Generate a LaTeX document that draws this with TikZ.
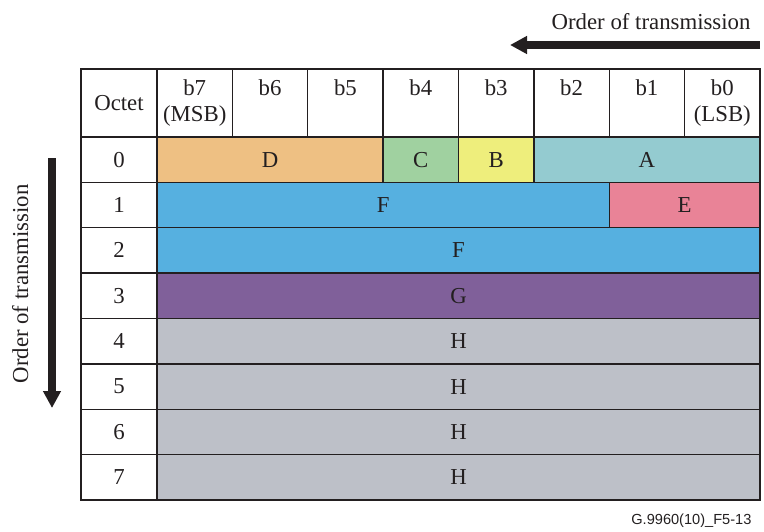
\documentclass[tikz,border=0pt]{standalone}
\usepackage{fontspec}
\setmainfont{Liberation Serif}
\newfontfamily\labelfont{Liberation Sans}
\usetikzlibrary{arrows.meta}
\definecolor{ink}{HTML}{231F20}
\definecolor{fieldA}{HTML}{94CBD0}
\definecolor{fieldB}{HTML}{EEEE7C}
\definecolor{fieldC}{HTML}{A0D1A0}
\definecolor{fieldD}{HTML}{EEC083}
\definecolor{fieldE}{HTML}{E98397}
\definecolor{fieldF}{HTML}{56B0E0}
\definecolor{fieldG}{HTML}{80609A}
\definecolor{fieldH}{HTML}{BDC0C8}

\begin{document}
\begin{tikzpicture}[x = 1pt, y = -1pt,
  every node/.style = {text = ink, font = \fontsize{22.8}{25.5}\selectfont},
  cell/.style = {draw = ink, line width = 1.3pt, inner sep = 0pt, outer sep = 0pt,
                 anchor = north west, minimum height = 45.375pt},
  head/.style = {cell, minimum height = 68pt, minimum width = 75.375pt, align = center},
  bigarrow/.style = {ink, line width = 8.5pt, -{Triangle[length = 17pt, width = 17pt]}}]
\useasboundingbox (0,0) rectangle (764,531);
% header
\node [head, minimum width = 76pt] (octet) at (81,69) {Octet};
\node [head] (b7) at (157,69) {b7\\(MSB)};
\node [head] (b6) at (232.375,69) {b6\\\vphantom{(}};
\node [head] (b5) at (307.75,69) {b5\\\vphantom{(}};
\node [head] (b4) at (383.125,69) {b4\\\vphantom{(}};
\node [head] (b3) at (458.5,69) {b3\\\vphantom{(}};
\node [head] (b2) at (533.875,69) {b2\\\vphantom{(}};
\node [head] (b1) at (609.25,69) {b1\\\vphantom{(}};
\node [head] (b0) at (684.625,69) {b0\\(LSB)};
% octet numbers
\node [cell, minimum width = 76pt] (oct0) at (81,137) {0};
\node [cell, minimum width = 76pt] (oct1) at (81,182.375) {1};
\node [cell, minimum width = 76pt] (oct2) at (81,227.75) {2};
\node [cell, minimum width = 76pt] (oct3) at (81,273.125) {3};
\node [cell, minimum width = 76pt] (oct4) at (81,318.5) {4};
\node [cell, minimum width = 76pt] (oct5) at (81,363.875) {5};
\node [cell, minimum width = 76pt] (oct6) at (81,409.25) {6};
\node [cell, minimum width = 76pt] (oct7) at (81,454.625) {7};
% octet 0
\node [cell, fill = fieldD, minimum width = 226.125pt] (fieldD0) at (157,137) {D};
\node [cell, fill = fieldC, minimum width = 75.375pt] (fieldC0) at (383.125,137) {C};
\node [cell, fill = fieldB, minimum width = 75.375pt] (fieldB0) at (458.5,137) {B};
\node [cell, fill = fieldA, minimum width = 226.125pt] (fieldA0) at (533.875,137) {A};
% octet 1
\node [cell, fill = fieldF, minimum width = 452.25pt] (fieldF1) at (157,182.375) {F};
\node [cell, fill = fieldE, minimum width = 150.75pt] (fieldE1) at (609.25,182.375) {E};
% octets 2 to 7
\node [cell, fill = fieldF, minimum width = 603pt] (fieldF2) at (157,227.75) {F};
\node [cell, fill = fieldG, minimum width = 603pt] (fieldG3) at (157,273.125) {G};
\node [cell, fill = fieldH, minimum width = 603pt] (fieldH4) at (157,318.5) {H};
\node [cell, fill = fieldH, minimum width = 603pt] (fieldH5) at (157,363.875) {H};
\node [cell, fill = fieldH, minimum width = 603pt] (fieldH6) at (157,409.25) {H};
\node [cell, fill = fieldH, minimum width = 603pt] (fieldH7) at (157,454.625) {H};
% order of transmission
\node [anchor = base east] (orderbits) at (754,29) {Order of transmission};
\coordinate (bitsstart) at (760,45);
\coordinate (bitsend) at (510,45);
\draw [bigarrow] (bitsstart) -- (bitsend);
\node [anchor = base, rotate = 90] (orderoctets) at (28,284) {Order of transmission};
\coordinate (octetsstart) at (52,158);
\coordinate (octetsend) at (52,408);
\draw [bigarrow] (octetsstart) -- (octetsend);
\node [anchor = base east, font = \labelfont\fontsize{14.6}{18}\selectfont] (figlabel) at (755,524) {G.9960(10)\_F5-13};
\end{tikzpicture}
\end{document}
